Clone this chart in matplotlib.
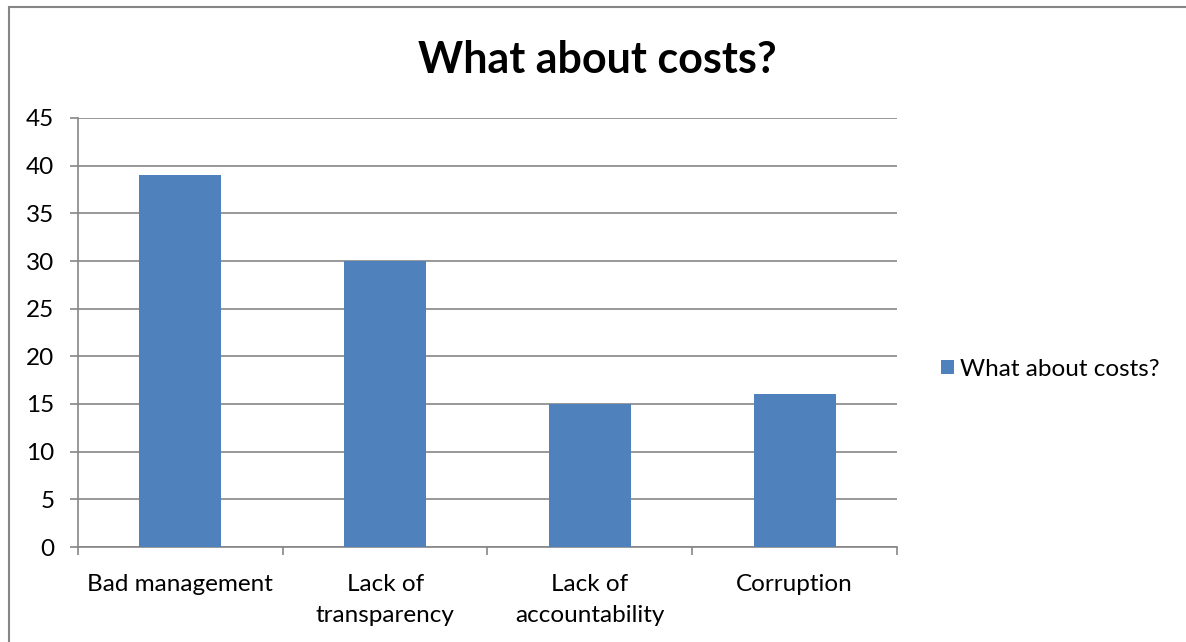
import matplotlib.pyplot as plt
from matplotlib.patches import Rectangle

categories = ['Bad management', 'Lack of\ntransparency', 'Lack of\naccountability', 'Corruption']
values = [39, 30, 15, 16]
series_name = 'What about costs?'
yticks = list(range(0, 50, 5))

plt.rcParams['font.family'] = ['Lato', 'DejaVu Sans']
grid_col = '#868686'
bar_col = '#4F81BD'

fig = plt.figure(figsize=(11.86, 6.42), dpi=100)
ax = fig.add_axes([78 / 1186, 1 - 547 / 642, (897 - 78) / 1186, (547 - 118) / 642])

# chart frame
fig.patches.append(Rectangle((9 / 1186, -0.1), 1.2, 1 - 7 / 642 + 0.1, transform=fig.transFigure,
                             fill=False, edgecolor=grid_col, linewidth=1.5))

x = range(len(categories))
ax.bar(x, values, width=0.4, color=bar_col, label=series_name, zorder=3)

ax.set_xlim(-0.5, len(categories) - 0.5)
ax.set_ylim(0, 45)
ax.set_yticks(yticks)
ax.set_xticks(list(x))
ax.set_xticklabels(categories, fontsize=17.5, linespacing=1.6)
ax.set_xticks([i - 0.5 for i in range(len(categories) + 1)], minor=True)
ax.tick_params(axis='x', which='major', length=0, pad=19.5)
ax.tick_params(axis='x', which='minor', length=6, color=grid_col, width=1.2)
ax.tick_params(axis='y', length=6, color=grid_col, width=1.2, labelsize=17.5, pad=11)
ax.yaxis.grid(True, color=grid_col, linewidth=1.2, zorder=0)

for s in ['top', 'right']:
    ax.spines[s].set_visible(False)
for s in ['left', 'bottom']:
    ax.spines[s].set_color(grid_col)
    ax.spines[s].set_linewidth(1.2)

fig.text(597 / 1186, 1 - 60 / 642, series_name, ha='center', va='center', fontsize=31, fontweight='bold')

fig.legend(loc='center left', bbox_to_anchor=(919 / 1186, 1 - 369 / 642), frameon=False,
           fontsize=17.5, handlelength=0.55, handleheight=0.55, handletextpad=0.25)

fig.savefig('out.png', dpi=100)
